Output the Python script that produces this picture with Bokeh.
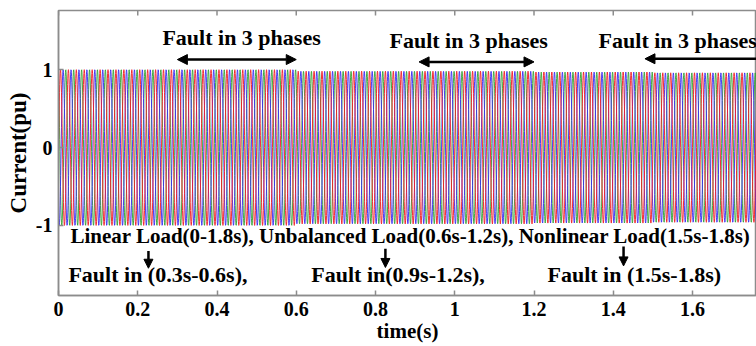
import numpy as np
from bokeh.plotting import figure
from bokeh.models import (Range1d, LinearAxis, FixedTicker, Label, Arrow,
                          NormalHead, ColumnDataSource)
from bokeh.embed import file_html
from bokeh.resources import INLINE

# --- three-phase load current (per unit) ---
freq_hz = 50.0
t_end = 1.8
samples_per_cycle = 40
phase_names = ["Ic", "Ib", "Ia"]
phase_shift_deg = [120.0, -120.0, 0.0]
phase_colors = ["#33a033", "#3a2cf0", "#f01c24"]

# peak current per operating interval (pu)
interval_edges = [0.0, 0.3, 0.6, 0.9, 1.2, 1.5, 1.8]
interval_peak = [1.0, 1.0, 0.98, 0.98, 0.97, 0.96]

x_ticks = [0, 0.2, 0.4, 0.6, 0.8, 1.0, 1.2, 1.4, 1.6]
x_tick_labels = ["0", "0.2", "0.4", "0.6", "0.8", "1", "1.2", "1.4", "1.6"]
y_ticks = [-1, 0, 1]
y_tick_labels = ["-1", "0", "1"]

t = np.linspace(0.0, t_end, int(t_end * freq_hz * samples_per_cycle) + 1)
seg = np.clip(np.searchsorted(interval_edges, t, side="right") - 1, 0, len(interval_peak) - 1)
peak = np.array(interval_peak)[seg]
data = {"t": t}
for name, sh in zip(phase_names, phase_shift_deg):
    data[name] = peak * np.sin(2 * np.pi * freq_hz * t + np.deg2rad(sh))
src = ColumnDataSource(data)

SERIF = "Liberation Serif"
FRAME = "#8c8c8c"
Y_LO, Y_HI = -1.9, 1.76

p = figure(width=756, height=346, output_backend="svg", toolbar_location=None,
           x_range=Range1d(0, 1.7615), y_range=Range1d(Y_LO, Y_HI),
           min_border_left=58, min_border_right=0, min_border_top=10,
           min_border_bottom=51, x_axis_type=None, y_axis_type=None)
p.outline_line_color = FRAME
p.outline_line_width = 1.5
p.xgrid.visible = False
p.ygrid.visible = False
p.background_fill_color = "white"
p.border_fill_color = "white"

for name, col in zip(phase_names, phase_colors):
    p.line("t", name, source=src, line_color=col, line_width=1.0, line_alpha=0.9)

# inward tick marks along the top edge of the box
tick_len = 0.064
p.segment(x0=x_ticks, y0=[Y_HI] * len(x_ticks), x1=x_ticks,
          y1=[Y_HI - tick_len] * len(x_ticks), line_color=FRAME, line_width=1.5)

def style_axis(ax):
    ax.axis_line_color = FRAME
    ax.axis_line_width = 1.5
    ax.major_tick_line_color = FRAME
    ax.major_tick_line_width = 1.5
    ax.major_tick_in = 5
    ax.major_tick_out = 0
    ax.minor_tick_line_color = None
    ax.major_label_text_font = SERIF
    ax.major_label_text_font_style = "bold"
    ax.major_label_text_color = "black"
    ax.major_label_text_font_size = "20px"
    ax.axis_label_text_font = SERIF
    ax.axis_label_text_font_style = "bold"
    ax.axis_label_text_color = "black"
    ax.axis_label_text_font_size = "21px"

xb = LinearAxis(ticker=FixedTicker(ticks=x_ticks),
                major_label_overrides={k: v for k, v in zip(x_ticks, x_tick_labels)},
                axis_label="time(s)")
style_axis(xb)
xb.major_label_standoff = 6
xb.axis_label_standoff = 0
p.add_layout(xb, "below")

yl = LinearAxis(ticker=FixedTicker(ticks=y_ticks),
                major_label_overrides={k: v for k, v in zip(y_ticks, y_tick_labels)},
                axis_label="Current(pu)")
style_axis(yl)
yl.major_label_standoff = 6
yl.axis_label_standoff = 2
yl.axis_label_text_font_size = "23px"
p.add_layout(yl, "left")

def label(x, y, text, size, align="left"):
    p.add_layout(Label(x=x, y=y, text=text, text_font=SERIF, text_font_style="bold",
                       text_font_size=size, text_color="black", text_align=align,
                       text_baseline="alphabetic"))

def arrow(x0, y0, x1, y1, both=False, size=10):
    p.add_layout(Arrow(x_start=x0, y_start=y0, x_end=x1, y_end=y1,
                       line_width=2.5, line_color="black",
                       start=NormalHead(size=size, fill_color="black", line_color="black") if both else None,
                       end=NormalHead(size=size, fill_color="black", line_color="black")))

# three-phase fault windows
label(0.462, 1.41, "Fault in 3 phases", "22px", "center")
arrow(0.30, 1.13, 0.60, 1.13, both=True)
label(1.035, 1.37, "Fault in 3 phases", "22px", "center")
arrow(0.91, 1.10, 1.20, 1.10, both=True)
label(1.363, 1.37, "Fault in 3 phases", "22px")
arrow(1.48, 1.14, 1.80, 1.14, both=True)

# load schedule and fault intervals
label(0.03, -1.13, "Linear Load(0-1.8s), Unbalanced Load(0.6s-1.2s), Nonlinear Load(1.5s-1.8s)", "21px")
label(0.025, -1.63, "Fault in (0.3s-0.6s),", "22px")
label(0.638, -1.63, "Fault in(0.9s-1.2s),", "22px")
label(1.234, -1.63, "Fault in (1.5s-1.8s)", "22px")
arrow(0.227, -1.33, 0.227, -1.55, size=9)
arrow(0.825, -1.30, 0.825, -1.54, size=9)
arrow(1.426, -1.27, 1.426, -1.52, size=9)

open("out.html", "w").write(file_html(p, INLINE))
